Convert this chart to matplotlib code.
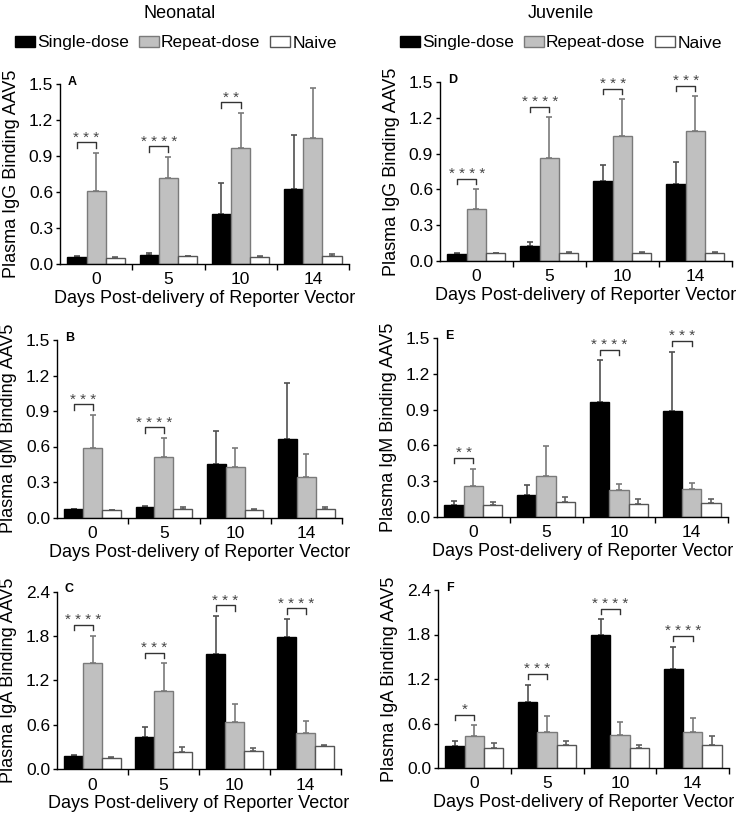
import matplotlib
matplotlib.use("Agg")
import matplotlib.pyplot as plt
from matplotlib.patches import Patch
import numpy as np

plt.rcParams['font.family'] = ['Liberation Sans', 'DejaVu Sans']

W, H = 739, 819

days = ['0', '5', '10', '14']
series_names = ['Single-dose', 'Repeat-dose', 'Naive']

# Panel A: neonatal IgG
A_single = [0.060, 0.078, 0.420, 0.627]
A_single_err = [0.008, 0.010, 0.256, 0.446]
A_repeat = [0.612, 0.718, 0.970, 1.048]
A_repeat_err = [0.313, 0.173, 0.286, 0.416]
A_naive = [0.053, 0.064, 0.058, 0.065]
A_naive_err = [0.003, 0.005, 0.005, 0.015]
A_stars = ['***', '****', '**', '']

# Panel B: neonatal IgM
B_single = [0.070, 0.087, 0.455, 0.660]
B_single_err = [0.005, 0.006, 0.273, 0.480]
B_repeat = [0.585, 0.509, 0.427, 0.340]
B_repeat_err = [0.281, 0.163, 0.163, 0.194]
B_naive = [0.060, 0.070, 0.065, 0.070]
B_naive_err = [0.003, 0.017, 0.005, 0.017]
B_stars = ['***', '****', '', '']

# Panel C: neonatal IgA
C_single = [0.176, 0.441, 1.554, 1.784]
C_single_err = [0.014, 0.131, 0.514, 0.243]
C_repeat = [1.437, 1.063, 0.635, 0.486]
C_repeat_err = [0.369, 0.369, 0.248, 0.163]
C_naive = [0.153, 0.239, 0.252, 0.311]
C_naive_err = [0.018, 0.063, 0.032, 0.013]
C_stars = ['****', '***', '***', '****']

# Panel D: juvenile IgG
D_single = [0.059, 0.126, 0.673, 0.645]
D_single_err = [0.006, 0.030, 0.131, 0.185]
D_repeat = [0.439, 0.866, 1.045, 1.092]
D_repeat_err = [0.161, 0.338, 0.310, 0.288]
D_naive = [0.065, 0.070, 0.070, 0.070]
D_naive_err = [0.005, 0.006, 0.007, 0.006]
D_stars = ['****', '****', '***', '***']

# Panel E: juvenile IgM
E_single = [0.103, 0.187, 0.964, 0.891]
E_single_err = [0.028, 0.084, 0.349, 0.494]
E_repeat = [0.257, 0.346, 0.223, 0.237]
E_repeat_err = [0.148, 0.246, 0.054, 0.051]
E_naive = [0.103, 0.126, 0.112, 0.120]
E_naive_err = [0.023, 0.039, 0.039, 0.031]
E_stars = ['**', '', '****', '***']

# Panel F: juvenile IgA
F_single = [0.293, 0.896, 1.800, 1.341]
F_single_err = [0.072, 0.229, 0.203, 0.297]
F_repeat = [0.432, 0.490, 0.450, 0.490]
F_repeat_err = [0.144, 0.217, 0.176, 0.185]
F_naive = [0.275, 0.306, 0.270, 0.315]
F_naive_err = [0.063, 0.059, 0.036, 0.117]
F_stars = ['*', '***', '****', '****']

ylabels = ['Plasma IgG Binding AAV5', 'Plasma IgM Binding AAV5', 'Plasma IgA Binding AAV5']
yticks_15 = [0.0, 0.3, 0.6, 0.9, 1.2, 1.5]
yticks_24 = [0.0, 0.6, 1.2, 1.8, 2.4]
xlabel = 'Days Post-delivery of Reporter Vector'

fills = ['black', '#c0c0c0', 'white']
edges = ['black', '#7a7a7a', '#555555']
errcols = ['#505050', '#7a7a7a', '#606060']

def pos(l, r, t, b):
    return [l / W, 1 - b / H, (r - l) / W, (b - t) / H]

fig = plt.figure(figsize=(W / 100, H / 100), dpi=100)

panels = [
    ('A', pos(60, 349, 84, 264), A_single, A_single_err, A_repeat, A_repeat_err, A_naive, A_naive_err, A_stars, 0, yticks_15),
    ('B', pos(57, 342, 340, 517.5), B_single, B_single_err, B_repeat, B_repeat_err, B_naive, B_naive_err, B_stars, 1, yticks_15),
    ('C', pos(57, 341, 591.5, 769.3), C_single, C_single_err, C_repeat, C_repeat_err, C_naive, C_naive_err, C_stars, 2, yticks_24),
    ('D', pos(440, 731.7, 82, 261), D_single, D_single_err, D_repeat, D_repeat_err, D_naive, D_naive_err, D_stars, 0, yticks_15),
    ('E', pos(437, 728, 338, 517), E_single, E_single_err, E_repeat, E_repeat_err, E_naive, E_naive_err, E_stars, 1, yticks_15),
    ('F', pos(438, 729, 590, 768), F_single, F_single_err, F_repeat, F_repeat_err, F_naive, F_naive_err, F_stars, 2, yticks_24),
]

bw = 0.265
for letter, p, s, se, r, re_, n, ne, stars, li, yt in panels:
    ax = fig.add_axes(p)
    x = np.arange(len(days)) + 0.5
    vals = [s, r, n]
    errs = [se, re_, ne]
    for k in range(3):
        xs = x + (k - 1) * bw
        ax.bar(xs, vals[k], width=bw, color=fills[k], edgecolor=edges[k], linewidth=1.0, zorder=2)
        ax.errorbar(xs, vals[k], yerr=[np.zeros(len(days)), errs[k]], fmt='none',
                    ecolor=errcols[k], elinewidth=1.2, capsize=2.2, capthick=1.2, zorder=1)
    ymax = yt[-1]
    for i, st in enumerate(stars):
        if not st:
            continue
        top = max(s[i] + se[i], r[i] + re_[i])
        yb = top + 0.06 * ymax
        x0 = x[i] - bw
        x1 = x[i]
        d = 0.03 * ymax
        ax.plot([x0, x0, x1, x1], [yb - d, yb, yb, yb - d], color='#333333', lw=1.0, zorder=3, clip_on=False)
        ax.annotate(' '.join(st), xy=((x0 + x1) / 2, yb), xytext=(0, 0.5), textcoords='offset points',
                    ha='center', va='baseline', fontsize=11, color='#444444', clip_on=False)
    ax.set_xlim(0, 4)
    ax.set_ylim(0, ymax)
    ax.set_yticks(yt)
    ax.set_yticklabels([f'{v:.1f}' for v in yt])
    ax.set_xticks(x)
    ax.set_xticklabels(days)
    ax.set_xticks([1, 2, 3, 4], minor=True)
    ax.tick_params(axis='x', which='major', length=0, pad=6, labelsize=12.5)
    ax.tick_params(axis='x', which='minor', length=4, width=1, direction='out')
    ax.tick_params(axis='y', length=3, width=1, pad=2, labelsize=12.5)
    for sp in ['top', 'right']:
        ax.spines[sp].set_visible(False)
    for sp in ['left', 'bottom']:
        ax.spines[sp].set_linewidth(1.0)
    ax.set_ylabel(ylabels[li], fontsize=13, labelpad=6)
    ax.set_xlabel(xlabel, fontsize=13, labelpad=2)
    ax.text(0.028, 1.045, letter, transform=ax.transAxes, fontsize=9, fontweight='bold',
            ha='left', va='top')

fig.text(180 / W, 1 - 13 / H, 'Neonatal', ha='center', va='center', fontsize=13)
fig.text(561 / W, 1 - 13 / H, 'Juvenile', ha='center', va='center', fontsize=13)

handles = [Patch(facecolor=fills[k], edgecolor=edges[k], linewidth=1.0) for k in range(3)]
for xl in [15 / W, 400 / W]:
    fig.legend(handles, series_names, loc='center left', bbox_to_anchor=(xl, 1 - 43 / H),
               ncol=3, frameon=False, fontsize=12.5, handlelength=1.15, handleheight=0.6,
               handletextpad=0.1, columnspacing=0.6, borderpad=0, borderaxespad=0)

fig.savefig('out.png', dpi=100)
